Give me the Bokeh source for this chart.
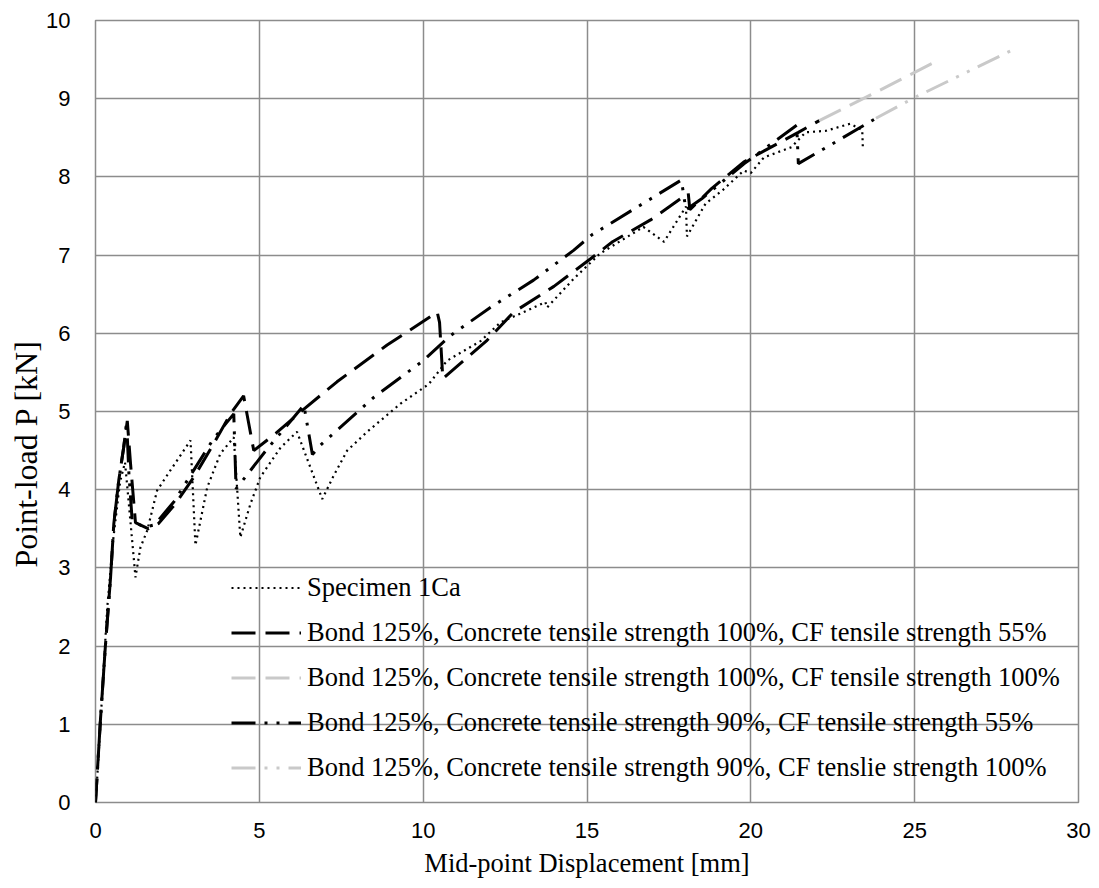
from bokeh.plotting import figure
from bokeh.models import Range1d, FixedTicker, Legend, LegendItem, Title
from bokeh.embed import file_html
from bokeh.resources import INLINE

# ---- data ----
spec_x = [0, 0.05, 0.15, 0.36, 0.55, 0.75, 0.9, 1.0, 1.22, 1.37, 1.58, 1.88, 2.29, 2.9, 3.05,
          3.41, 3.81, 4.22, 4.42, 4.73, 5.03, 5.65, 6.15, 6.92, 7.27, 7.68, 8.29, 9.31, 10.17,
          10.73, 11.34, 11.75, 12.36, 13.17, 13.73, 13.78, 14.6, 15.4, 16.72, 17.35, 18.02,
          18.05, 18.62, 19.14, 19.78, 20.0, 20.4, 21.24, 21.67, 22.3, 23.03, 23.4, 23.42]
spec_y = [0, 0.3, 1.0, 2.5, 3.4, 4.1, 4.35, 3.9, 2.88, 3.26, 3.48, 3.99, 4.25, 4.63, 3.29,
          4.03, 4.46, 4.67, 3.39, 3.82, 4.16, 4.54, 4.74, 3.88, 4.18, 4.5, 4.74, 5.1, 5.35,
          5.65, 5.8, 5.9, 6.14, 6.29, 6.4, 6.33, 6.7, 7.02, 7.36, 7.17, 7.62,
          7.24, 7.66, 7.83, 8.08, 8.05, 8.25, 8.38, 8.57, 8.59, 8.68, 8.6, 8.36]

b100_55_x = [0, 0.15, 0.3, 0.46, 0.56, 0.71, 0.86, 0.97, 1.07, 1.22, 1.62, 1.93, 2.44, 3.0,
             3.61, 4.12, 4.52, 4.83, 5.5, 6.36, 7.37, 8.9, 10.43, 10.5, 10.6, 11.95, 12.76,
             13.99, 15.1, 15.78, 16.94, 18.09, 18.14, 18.8, 19.78, 21.45, 22.09]
b100_55_y = [0, 1.05, 1.99, 2.88, 3.57, 4.12, 4.54, 4.88, 4.33, 3.58, 3.5, 3.57, 3.82, 4.16,
             4.59, 4.97, 5.2, 4.5, 4.72, 5.03, 5.38, 5.85, 6.27, 6.14, 5.42, 5.91, 6.27,
             6.6, 6.95, 7.17, 7.45, 7.79, 7.58, 7.85, 8.19, 8.57, 8.72]

b100_100_x = [22.09, 23.9, 25.66]
b100_100_y = [8.72, 9.1, 9.48]

b90_55_x = [0, 0.15, 0.3, 0.46, 0.56, 0.71, 0.86, 0.95, 1.02, 1.12, 1.5, 1.8, 2.4, 3.0, 3.6,
            4.22, 4.29, 5.2, 6.36, 6.62, 6.87, 8.49, 10.0, 10.83, 12.05, 13.37, 14.59, 15.15,
            17.88, 18.02, 18.5, 19.8, 21.4, 21.45, 22.6, 23.82]
b90_55_y = [0, 1.05, 1.99, 2.88, 3.57, 4.12, 4.54, 4.87, 4.2, 3.6, 3.52, 3.55, 3.85, 4.25, 4.65,
            4.97, 4.01, 4.5, 5.08, 4.45, 4.57, 5.18, 5.65, 5.97, 6.33, 6.68, 7.06, 7.26,
            7.96, 7.58, 7.72, 8.17, 8.66, 8.17, 8.45, 8.75]

b90_100_x = [23.82, 25.02, 27.97]
b90_100_y = [8.75, 9.02, 9.62]

labels = [
    "Specimen 1Ca",
    "Bond 125%, Concrete tensile strength 100%, CF tensile strength 55%",
    "Bond 125%, Concrete tensile strength 100%, CF tensile strength 100%",
    "Bond 125%, Concrete tensile strength 90%, CF tensile strength 55%",
    "Bond 125%, Concrete tensile strength 90%, CF tenslie strength 100%",
]
x_ticks = [0, 5, 10, 15, 20, 25, 30]
y_ticks = [0, 1, 2, 3, 4, 5, 6, 7, 8, 9, 10]

GRID = "#8c8c8c"
GRAY = "#c9c9c9"
SERIF = "Liberation Serif"
SANS = "Liberation Sans"

p = figure(width=1091, height=880, output_backend="svg", toolbar_location=None,
           x_range=Range1d(0, 30), y_range=Range1d(0, 10),
           min_border_left=95, min_border_right=13, min_border_top=20, min_border_bottom=78)
p.background_fill_color = "white"
p.border_fill_color = "white"
p.outline_line_color = GRID
p.outline_line_width = 1.5

for ax in (p.xaxis[0], p.yaxis[0]):
    ax.axis_line_color = None
    ax.major_tick_line_color = None
    ax.minor_tick_line_color = None
    ax.major_tick_in = 0
    ax.major_tick_out = 0
    ax.major_label_text_font = SANS
    ax.major_label_text_font_size = "22px"
    ax.major_label_text_color = "black"

p.xaxis[0].ticker = FixedTicker(ticks=x_ticks)
p.yaxis[0].ticker = FixedTicker(ticks=y_ticks)
p.xaxis[0].major_label_standoff = 20
p.yaxis[0].major_label_standoff = 25
p.xaxis[0].axis_label = "Mid-point Displacement [mm]"
p.xaxis[0].axis_label_text_font = SERIF
p.xaxis[0].axis_label_text_font_size = "26.5px"
p.xaxis[0].axis_label_text_font_style = "normal"
p.xaxis[0].axis_label_text_color = "black"
p.xaxis[0].axis_label_standoff = 7

for g in (p.xgrid[0], p.ygrid[0]):
    g.grid_line_color = GRID
    g.grid_line_width = 1.5
p.xgrid[0].ticker = FixedTicker(ticks=x_ticks)
p.ygrid[0].ticker = FixedTicker(ticks=y_ticks)

yt = Title(text="Point-load P [kN]", text_font=SERIF, text_font_size="32px",
           text_font_style="normal", text_color="black", align="left", offset=235, standoff=0)
p.add_layout(yt, "left")

r1 = p.line(spec_x, spec_y, line_color="black", line_width=2.2, line_dash="2 4")
r2 = p.line(b100_55_x, b100_55_y, line_color="black", line_width=3, line_dash="24 10")
r3 = p.line(b100_100_x, b100_100_y, line_color=GRAY, line_width=3, line_dash="24 10")
r4 = p.line(b90_55_x, b90_55_y, line_color="black", line_width=3, line_dash="24 9 3 9 3 9")
r5 = p.line(b90_100_x, b90_100_y, line_color=GRAY, line_width=3, line_dash="24 9 3 9 3 9")

legend = Legend(items=[LegendItem(label=l, renderers=[r]) for l, r in zip(labels, [r1, r2, r3, r4, r5])],
                location=(136, 12), border_line_color=None, background_fill_alpha=0,
                padding=0, margin=0, spacing=0, glyph_width=70, glyph_height=45,
                label_height=45, label_standoff=6, label_text_font=SERIF,
                label_text_font_size="26.5px", label_text_color="black")
p.add_layout(legend)

open("out.html", "w").write(file_html(p, INLINE))
